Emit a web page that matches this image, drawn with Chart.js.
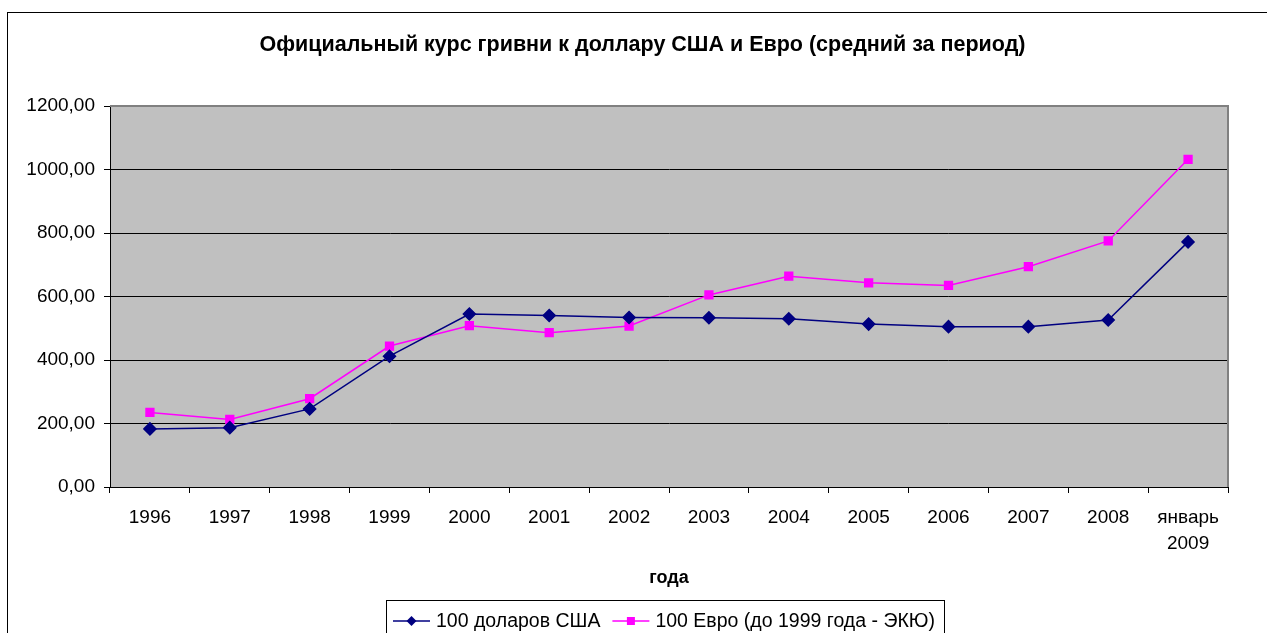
<!DOCTYPE html>
<html>
<head>
<meta charset="utf-8">
<script src="https://cdn.jsdelivr.net/npm/chart.js@4/dist/chart.umd.min.js"></script>
<style>
  html, body { margin: 0; padding: 0; background: #fff; overflow: hidden; }
  #wrap { position: absolute; left: 0; top: 0; width: 1267px; height: 633px; }
</style>
</head>
<body>
<div id="wrap"><canvas id="myChart" width="1267" height="633"></canvas></div>
<script>
// данные с картинки
const years = ['1996', '1997', '1998', '1999', '2000', '2001', '2002', '2003', '2004', '2005', '2006', '2007', '2008', ['январь', '2009']];
const usd100 = [183, 187, 246, 412, 545, 540, 534, 533, 530, 513, 505, 505, 526, 772];
const eur100 = [235, 213, 278, 444, 508, 486, 507, 605, 664, 643, 635, 694, 775, 1032];
const yTicks = [0, 200, 400, 600, 800, 1000, 1200];
const seriesNames = ['100 доларов США', '100 Евро (до 1999 года - ЭКЮ)'];
const chartTitle = 'Официальный курс гривни к доллару США и Евро (средний за период)';
const xTitle = 'года';

const FONT = '"Liberation Sans", Arial, sans-serif';
const colUsd = '#000080';
const colEur = '#FF00FF';

// фон, рамки, заголовок, легенда
const decor = {
  id: 'decor',
  beforeDraw(chart) {
    const {ctx, chartArea: a} = chart;
    ctx.save();
    ctx.fillStyle = '#C0C0C0';
    ctx.fillRect(a.left, a.top, a.right - a.left, a.bottom - a.top);
    ctx.restore();
  },
  afterDraw(chart) {
    const {ctx, chartArea: a} = chart;
    ctx.save();
    // рамка вокруг диаграммы
    ctx.strokeStyle = '#000';
    ctx.lineWidth = 1;
    ctx.strokeRect(7.5, 12.5, 1300, 700);
    // верх и правая граница области построения
    ctx.strokeStyle = '#808080';
    ctx.lineWidth = 2;
    ctx.beginPath();
    ctx.moveTo(a.left, a.top);
    ctx.lineTo(a.right, a.top);
    ctx.lineTo(a.right, a.bottom);
    ctx.stroke();

    // заголовок
    ctx.fillStyle = '#000';
    ctx.font = 'bold 21.5px ' + FONT;
    ctx.textAlign = 'center';
    ctx.textBaseline = 'middle';
    ctx.fillText(chartTitle, 642.5, 45);

    // легенда
    ctx.font = '19.5px ' + FONT;
    ctx.textBaseline = 'middle';
    ctx.textAlign = 'left';
    const ly = 621;
    let x = 393;
    const items = [
      {name: seriesNames[0], color: colUsd, style: 'diamond'},
      {name: seriesNames[1], color: colEur, style: 'square'}
    ];
    let textEnd = x;
    items.forEach((it, i) => {
      ctx.strokeStyle = it.color;
      ctx.lineWidth = 1.5;
      ctx.beginPath();
      ctx.moveTo(x, ly);
      ctx.lineTo(x + 37, ly);
      ctx.stroke();
      ctx.fillStyle = it.color;
      const mx = x + 18.5;
      if (it.style === 'diamond') {
        ctx.beginPath();
        ctx.moveTo(mx, ly - 5);
        ctx.lineTo(mx + 5, ly);
        ctx.lineTo(mx, ly + 5);
        ctx.lineTo(mx - 5, ly);
        ctx.closePath();
        ctx.fill();
      } else {
        ctx.fillRect(mx - 4, ly - 4, 8, 8);
      }
      ctx.fillStyle = '#000';
      ctx.fillText(it.name, x + 43, ly + 1);
      textEnd = x + 43 + ctx.measureText(it.name).width;
      x = textEnd + 12;
    });
    ctx.strokeStyle = '#000';
    ctx.lineWidth = 1;
    ctx.strokeRect(386.5, 600.5, Math.round(textEnd + 9) - 386, 100);
    ctx.restore();
  }
};

const ctx = document.getElementById('myChart');
const myChart = new Chart(ctx, {
  type: 'line',
  data: {
    labels: years,
    datasets: [{
      label: seriesNames[0],
      data: usd100,
      borderColor: colUsd,
      backgroundColor: colUsd,
      borderWidth: 1.5,
      pointStyle: 'rectRot',
      pointRadius: 6,
      pointHoverRadius: 6,
      tension: 0
    }, {
      label: seriesNames[1],
      data: eur100,
      borderColor: colEur,
      backgroundColor: colEur,
      borderWidth: 1.5,
      pointStyle: 'rect',
      pointRadius: 5.5,
      pointHoverRadius: 5.5,
      tension: 0
    }]
  },
  options: {
    responsive: false,
    animation: false,
    events: [],
    layout: { padding: { top: 106, left: 0, right: 39, bottom: 0 } },
    plugins: {
      legend: { display: false },
      tooltip: { enabled: false },
      title: { display: false }
    },
    scales: {
      x: {
        offset: true,
        grid: { offset: true, drawOnChartArea: false, drawTicks: true, tickLength: 6, color: '#000' },
        border: { color: '#000', width: 1 },
        ticks: {
          color: '#000',
          font: { family: FONT, size: 19, lineHeight: '26px' },
          padding: 12,
          maxRotation: 0,
          autoSkip: false
        },
        title: {
          display: true,
          text: xTitle,
          color: '#000',
          font: { family: FONT, size: 18, weight: 'bold' },
          padding: { top: 0, bottom: 44 }
        },
        afterFit(scale) { scale.height = 146; }
      },
      y: {
        min: 0,
        max: 1200,
        afterBuildTicks(scale) { scale.ticks = yTicks.map(v => ({value: v})); },
        grid: { color: '#000', lineWidth: 1, drawTicks: true, tickLength: 6 },
        border: { color: '#000', width: 1 },
        ticks: {
          color: '#000',
          font: { family: FONT, size: 19 },
          padding: 9,
          callback: v => v.toFixed(2).replace('.', ',')
        },
        afterFit(scale) { scale.width = 110; }
      }
    }
  },
  plugins: [decor]
});
</script>
</body>
</html>
